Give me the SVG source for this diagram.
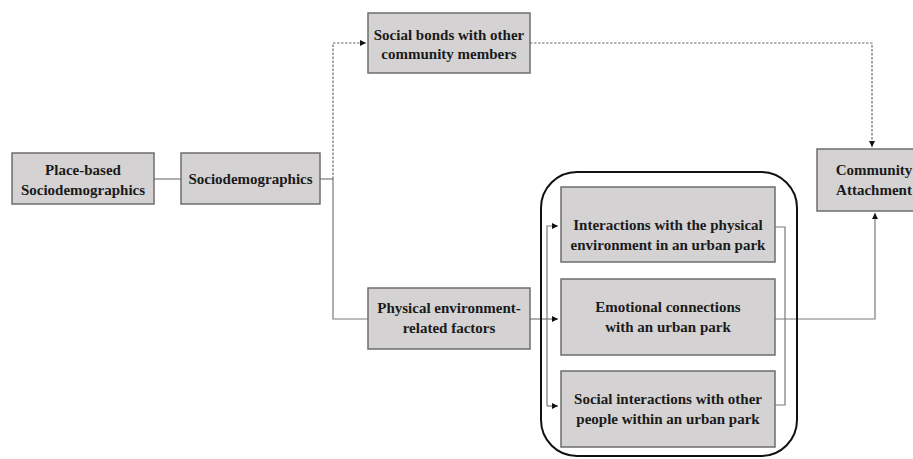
<svg xmlns="http://www.w3.org/2000/svg" width="913" height="459" viewBox="0 0 913 459">
<style>
.box{fill:#d4d2d3;stroke:#6e6e6e;stroke-width:1.5}
.t{font-family:"Liberation Serif","Times New Roman","DejaVu Serif",serif;font-weight:bold;font-size:15px;fill:#1a1a1a;text-anchor:middle}
.ln{fill:none;stroke:#7a7a7a;stroke-width:1.2}
.dt{fill:none;stroke:#6a6a6a;stroke-width:1.2;stroke-dasharray:2.5 1.5}
</style>
<defs>
<marker id="ah" markerWidth="8" markerHeight="8" refX="6" refY="3" orient="auto" markerUnits="userSpaceOnUse">
<path d="M0,0 L6,3 L0,6 Z" fill="#111"/>
</marker>
</defs>
<rect width="913" height="459" fill="#fff"/>
<g id="connectors">
<path class="ln" d="M154,179 H181"/>
<path class="ln" d="M320,179 H333"/>
<path class="dt" d="M333,179 V43 H366" marker-end="url(#ah)"/>
<path class="dt" d="M530,43 H872 V147" marker-end="url(#ah)"/>
<path class="ln" d="M333,179 V319 H368"/>
<path class="ln" d="M530,319 H558" marker-end="url(#ah)"/>
<path class="ln" d="M547,406 V226 H558" marker-end="url(#ah)"/>
<path class="ln" d="M547,406 H558" marker-end="url(#ah)"/>
<path class="ln" d="M775,227 H785 V405 H775"/>
<path class="ln" d="M775,319 H875 V213" marker-end="url(#ah)"/>
</g>
<g id="group-park">
<rect x="541" y="172" width="256" height="284" rx="36" ry="36" fill="none" stroke="#111" stroke-width="2"/>
</g>
<g id="place-based">
<rect class="box" x="12" y="153" width="142" height="51"/>
<text class="t" x="83" y="175">Place-based</text>
<text class="t" x="83" y="195">Sociodemographics</text>
</g>
<g id="sociodemographics">
<rect class="box" x="181" y="153" width="139" height="51"/>
<text class="t" x="250.5" y="184">Sociodemographics</text>
</g>
<g id="social-bonds">
<rect class="box" x="368" y="13" width="162" height="60"/>
<text class="t" x="449" y="40">Social bonds with other</text>
<text class="t" x="449" y="59">community members</text>
</g>
<g id="community-attachment">
<rect class="box" x="817" y="149" width="114" height="62"/>
<text class="t" x="874" y="175">Community</text>
<text class="t" x="874" y="195">Attachment</text>
</g>
<g id="physical-factors">
<rect class="box" x="368" y="288" width="162" height="61"/>
<text class="t" x="449" y="313">Physical environment-</text>
<text class="t" x="449" y="333">related factors</text>
</g>
<g id="interactions-physical">
<rect class="box" x="561" y="187" width="214" height="75"/>
<text class="t" x="668" y="230">Interactions with the physical</text>
<text class="t" x="668" y="250">environment in an urban park</text>
</g>
<g id="emotional">
<rect class="box" x="561" y="279" width="214" height="76"/>
<text class="t" x="668" y="312">Emotional connections</text>
<text class="t" x="668" y="332">with an urban park</text>
</g>
<g id="social-interactions">
<rect class="box" x="561" y="371" width="214" height="76"/>
<text class="t" x="668" y="404">Social interactions with other</text>
<text class="t" x="668" y="424">people within an urban park</text>
</g>
</svg>
